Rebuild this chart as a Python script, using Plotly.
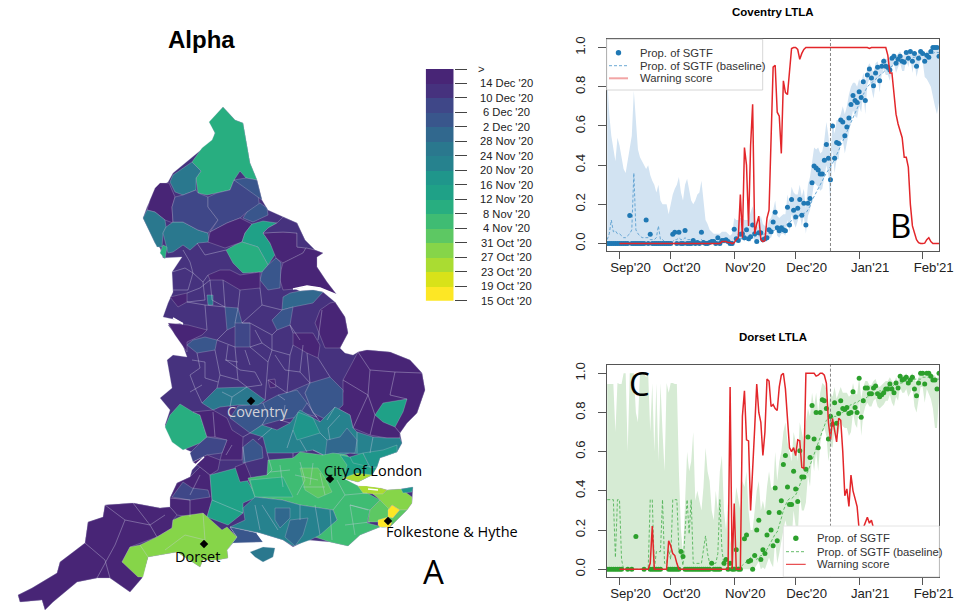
import pandas as pd
import plotly.graph_objects as go

N = None
days = pd.date_range("2020-08-31", periods=163)
tick_dates = ["2020-09-06", "2020-10-01", "2020-11-01", "2020-12-01", "2021-01-01", "2021-02-01"]
tick_text = ["Sep'20", "Oct'20", "Nov'20", "Dec'20", "Jan'21", "Feb'21"]
marker_date = "2020-12-18"

cov_sgtf = [0,0,0,0,0,0,0,0,0,0,
 0,.143,0,0,0,0,0,0,0,.12,
 0,.048,0,0,0,0,0,0,0,0,
 0,0,.048,.058,0,.058,0,0,.066,0,
 0,0,.015,0,.005,0,.058,.005,0,0,
 .005,.01,.01,0,.03,0,.015,.015,.02,.01,
 0,0,.073,.025,.015,.048,.05,.03,.07,.025,
 .035,.095,.05,.01,.055,.055,.02,.025,.03,.07,
 .06,.11,.16,.08,.065,.08,.07,.065,.185,.095,
 .225,.17,.135,.18,.225,.145,.205,.095,.205,.23,
 .31,.395,.385,.375,.355,.355,.425,.505,.435,.325,
 .60,.435,.515,.51,.63,.62,.55,.595,.64,.71,
 .755,.73,.72,.775,.745,.825,.73,.86,.89,.845,
 .805,.87,.90,.83,.905,.93,.905,.90,.885,.945,
 .955,.92,.94,.955,.93,.925,.975,.945,.98,.93,
 .97,.905,.945,.98,.97,.93,.96,.95,.98,1.0,
 1.0,1.0,.955]
cov_base = [.02,.05,.12,.06,.065,.05,.05,.04,.03,.03,
 .04,.05,.07,.36,.07,.05,.04,.03,.03,.03,
 .03,.02,.02,.02,.03,.09,.02,.02,.01,.01,
 .01,.01,.01,.02,.02,.03,.02,.02,.03,.02,
 .02,.02,.02,.01,.01,.01,.02,.01,.01,.01,
 .01,.01,.01,.01,.01,.01,.01,.01,.01,.01,
 .01,.01,.015,.02,.02,.025,.025,.03,.03,.03,
 .03,.035,.035,.04,.04,.04,.045,.05,.05,.055,
 .06,.065,.07,.07,.075,.08,.09,.09,.10,.11,
 .12,.125,.13,.14,.145,.15,.155,.155,.17,.19,
 .22,.24,.265,.285,.30,.32,.34,.36,.375,.39,
 .41,.43,.45,.475,.50,.52,.545,.57,.595,.62,
 .64,.665,.69,.715,.74,.76,.78,.80,.81,.82,
 .83,.84,.85,.86,.87,.88,.885,.89,.90,.905,
 .91,.92,.925,.93,.93,.935,.94,.945,.945,.95,
 .95,.955,.955,.96,.96,.965,.965,.97,.97,.97,
 .975,.975,.975]
cov_upper = [.85,.66,.55,.48,.42,.54,.5,.44,.38,.36,
 .42,.5,.55,.78,.6,.48,.44,.42,.4,.38,
 .4,.35,.32,.3,.26,.3,.22,.2,.2,.2,
 .15,.2,.25,.28,.3,.34,.26,.22,.3,.33,
 .28,.22,.2,.22,.25,.26,.32,.2,.12,.1,
 .07,.06,.05,.05,.05,.05,.06,.06,.06,.05,
 .04,.05,.13,.12,.12,.13,.13,.12,.12,.12,
 .16,.19,.14,.08,.1,.14,.1,.09,.08,.12,
 .13,.17,.22,.14,.13,.14,.15,.15,.25,.2,
 .29,.26,.25,.25,.3,.24,.28,.18,.3,.34,
 .42,.49,.48,.49,.46,.47,.53,.62,.55,.44,
 .62,.56,.63,.63,.66,.7,.66,.7,.76,.8,
 .82,.82,.8,.84,.81,.87,.83,.9,.92,.9,
 .87,.92,.93,.89,.93,.95,.94,.94,.94,.97,
 .97,.95,.97,.98,.96,.96,.98,.97,.99,.97,
 .98,.96,.97,.99,.99,.97,.98,.98,.99,1,
 1,1,1]
cov_lower = [0,0,0,0,0,0,0,0,0,0,
 0,0,0,0,0,0,0,0,0,0,
 0,0,0,0,0,0,0,0,0,0,
 0,0,0,0,0,0,0,0,0,0,
 0,0,0,0,0,0,0,0,0,0,
 0,0,0,0,0,0,0,0,0,0,
 0,0,.02,.01,.005,.02,.02,.01,.03,.01,
 .01,.03,.02,.005,.02,.02,.01,.01,.01,.03,
 .03,.06,.09,.04,.03,.05,.05,.04,.12,.06,
 .15,.11,.08,.12,.15,.09,.14,.05,.14,.17,
 .24,.31,.3,.29,.27,.28,.33,.4,.35,.2,
 .48,.36,.43,.43,.53,.53,.46,.5,.56,.62,
 .68,.65,.64,.7,.67,.77,.66,.81,.84,.79,
 .74,.81,.85,.77,.86,.89,.86,.86,.83,.9,
 .92,.87,.9,.92,.88,.88,.94,.9,.95,.87,
 .93,.85,.9,.94,.93,.85,.84,.82,.8,.75,
 .7,.66,.72]
cov_warn = [N,N,N,N,N,N,0,0,0,0,
 0,0,0,0,0,0,0,0,0,0,
 0,0,0,0,0,0,0,0,0,0,
 0,0,0,0,0,0,0,0,0,0,
 0,0,0,0,0,0,0,0,0,0,
 0,0,0,0,0,0,.01,.01,.01,.005,
 .005,0,.005,.02,.03,.25,.03,.49,.4,.09,
 .5,.71,.05,.1,.14,.02,.01,.015,.13,.17,
 .55,.90,.91,.67,.65,.46,.83,.77,.76,.9,
 .995,1,1,.99,.94,.97,.99,1,1,1,
 1,1,1,1,1,1,1,1,1,1,
 1,1,1,1,1,1,1,1,1,1,
 1,1,1,1,1,1,1,1,.995,1,
 1,1,1,1,1,1,1,.96,.87,.87,
 .78,.66,.61,.58,.54,.44,.44,.39,.2,.09,
 .06,.02,.005,0,0,.002,.02,.03,.01,0,
 0,0,0]

dor_sgtf = [0,0,0,0,0,0,0,0,N,N,
 0,N,0,N,.167,N,N,N,0,N,
 N,0,0,0,0,0,0,N,N,N,
 0,0,0,0,0,0,.09,.065,0,0,
 0,0,0,0,0,0,0,0,0,0,
 0,.03,0,0,0,0,N,.03,.05,0,
 .03,0,0,.1,0,0,N,.155,.175,.04,
 .045,0,.07,.2,.25,.05,.1,.08,.175,.29,
 .2,.12,.415,.145,.29,.35,.535,.58,.42,.33,
 .33,.50,.41,.345,.605,.47,.47,.51,.675,.57,
 .835,.665,.80,.62,.80,.865,.86,.82,.665,.78,
 .74,.85,.745,.795,.86,.82,.815,.825,.795,.80,
 .905,.825,.80,.975,.775,.86,.925,.925,.895,.895,
 .925,.935,.895,.88,.89,.90,.92,.92,.945,.92,
 .90,.95,.925,.985,.965,.97,.98,.95,.965,.98,
 .92,.885,.95,1,1,.945,1,1,.985,.965,
 .965,.92,1.0]
dor_base = [.355,.355,.355,.355,.06,.355,.355,.05,0,0,
 0,0,0,0,0,0,0,0,0,0,
 0,.355,.355,0,.09,.09,.09,.355,.03,.03,
 .1,.05,.355,.355,.355,.1,.08,.02,.2,.355,
 .18,.355,.03,.03,.03,.03,.03,.1,.17,.08,
 .03,.03,.03,.03,.08,.355,.1,.02,.02,.02,
 .02,.01,.01,.01,.01,.01,.02,.03,.04,.05,
 .06,.07,.06,.05,.06,.07,.07,.08,.1,.12,
 .14,.16,.18,.19,.22,.26,.3,.33,.35,.36,
 .36,.37,.38,.4,.43,.46,.47,.48,.5,.53,
 .56,.59,.62,.65,.68,.71,.74,.76,.77,.77,
 .77,.78,.78,.79,.8,.8,.81,.82,.83,.84,
 .84,.85,.85,.86,.86,.87,.87,.88,.88,.89,
 .89,.9,.9,.91,.91,.92,.92,.93,.93,.93,
 .94,.94,.95,.95,.95,.96,.96,.96,.96,.97,
 .97,.97,.97,.97,.98,.98,.98,.98,.98,.97,
 .97,.97,.97]
dor_upper = [.945,.945,.945,.945,.7,.95,.945,.945,1,1,
 .6,1,1,1,.8,.75,1,1,1,.98,
 1,.7,.95,.6,.95,.55,.95,.7,.5,.95,
 .9,.95,.95,.945,.945,.5,.2,.08,.35,.6,
 .5,.55,.7,.35,.4,.35,.3,.42,.62,.5,
 .45,.3,.25,.4,.3,.5,.58,.3,.2,.35,
 .15,.1,.3,.42,.35,.3,.45,.42,.5,.3,
 .2,.2,.3,.4,.45,.3,.35,.3,.42,.5,
 .42,.4,.6,.45,.55,.6,.7,.75,.65,.6,
 .55,.7,.65,.55,.75,.7,.65,.75,.82,.78,
 .9,.83,.9,.8,.9,.95,.94,.92,.82,.9,
 .88,.93,.87,.9,.93,.9,.9,.9,.88,.89,
 .95,.9,.89,.98,.87,.93,.96,.96,.94,.94,
 .96,.97,.94,.93,.94,.95,.96,.96,.98,.96,
 .95,.98,.96,1,.99,.99,1,.98,.99,1,
 .97,.95,.98,1,1,.98,1,1,1,.99,
 .99,.97,1]
dor_lower = [0,0,0,0,0,0,0,0,0,0,
 0,0,0,0,0,0,0,0,0,0,
 0,0,0,0,0,0,0,0,0,0,
 0,0,0,0,0,0,0,0,0,0,
 0,0,0,0,0,0,0,0,0,0,
 0,0,0,0,0,0,0,0,0,0,
 0,0,0,0,0,0,0,0,0,0,
 0,0,.005,.02,.04,0,.01,0,.03,.06,
 .03,.01,.15,.03,.08,.13,.2,.25,.2,.15,
 .15,.3,.22,.17,.38,.3,.3,.34,.48,.42,
 .58,.5,.6,.5,.64,.7,.72,.68,.55,.63,
 .62,.72,.65,.7,.75,.73,.72,.72,.68,.7,
 .8,.74,.72,.87,.68,.79,.83,.85,.83,.83,
 .86,.87,.83,.82,.83,.84,.86,.86,.89,.85,
 .83,.88,.86,.93,.9,.9,.92,.88,.9,.93,
 .83,.8,.87,.93,.93,.85,.92,.9,.87,.82,
 .72,.72,.88]
dor_warn = [N,N,N,N,N,N,0,0,0,0,
 0,0,0,0,0,0,0,0,0,0,
 0,.03,.22,0,0,0,0,0,0,0,
 .145,.12,.08,.07,.03,0,0,0,0,0,
 0,0,0,0,0,0,0,0,0,0,
 0,0,0,0,0,0,0,0,0,0,
 .93,0,.335,0,0,0,.78,.91,.66,.655,
 .30,.55,.72,.945,.80,.75,.58,.70,.97,.96,
 .83,.84,.82,.81,.93,.99,1,.92,.75,.62,
 .60,.62,.58,.66,.655,.52,.515,1,1,1,
 1,1,.985,.99,1,1,.99,.95,.75,.66,
 .77,.71,.65,.77,.76,.60,.375,.41,.32,.48,
 .40,.36,.32,.20,.20,.21,.24,.265,.235,.25,
 .21,.19,.15,.12,.10,.08,.06,.05,.03,.02,
 0,0,0,0,0,0,0,0,0,0,
 0,0,0,0,0,0,0,0,0,0,
 0,0,0]

# Date bins of the map key, latest at the top
key_labels = [">", "14 Dec '20", "10 Dec '20", "6 Dec '20", "2 Dec '20", "28 Nov '20", "24 Nov '20",
              "20 Nov '20", "16 Nov '20", "12 Nov '20", "8 Nov '20", "4 Nov '20", "31 Oct '20",
              "27 Oct '20", "23 Oct '20", "19 Oct '20", "15 Oct '20"]
key_colors = ["#482576", "#46327E", "#3F4788", "#39568C", "#31688E", "#2A788E", "#26828E", "#1F968B",
              "#1FA187", "#28AE80", "#3FBC73", "#5DC863", "#86D549", "#AADC32", "#D8E219", "#FDE725"]

england_coast = [(223,107),(235,120),(243,123),(246,140),(248,150),(250,163),(257,180),(262,200),(268,210),(283,217),
 (297,223),(305,240),(315,250),(323,253),(317,257),(317,267),(327,282),(337,295),(320,288),(307,286),(295,289),
 (300,291),(313,290),(323,292),(335,302),(345,317),(348,333),(340,348),(345,353),(353,355),(358,352),(367,350),
 (390,352),(410,360),(422,373),(425,390),(417,413),(407,423),(400,433),(402,443),(397,452),(380,458),(377,467),
 (372,475),(358,482),(343,478),(345,480),(358,486),(380,488),(387,490),(401,489),(413,487),(412,497),(412,503),(407,510),(390,527),
 (380,527),(360,535),(348,546),(330,542),(307,540),(293,547),(283,540),(260,533),(230,527),(237,537),(227,550),
 (228,558),(217,560),(203,560),(200,567),(177,552),(148,557),(142,578),(130,592),(110,578),(97,578),(77,582),
 (53,602),(45,610),(42,600),(20,602),(18,595),(32,588),(57,573),(60,562),(72,553),(85,543),(88,522),(103,517),
 (105,505),(133,503),(160,508),(170,507),(170,498),(177,483),(190,477),(192,470),(204,457),(187,450),(172,440),
 (165,425),(170,410),(160,398),(172,388),(167,360),(173,355),(187,357),(182,343),(168,325),(183,323),(177,320),
 (163,317),(168,303),(173,292),(172,272),(182,257),(163,258),(160,248),(155,243),(143,218),(147,207),(155,190),
 (168,182),(173,173),(192,157),(213,140),(215,133),(210,122)]

map_regions = [
 (1, england_coast),
 (9, [(223,107),(235,120),(243,123),(246,140),(248,150),(250,163),(257,180),(246,178),(240,171),(234,180),(230,190),(217,193),(207,195),(198,193),(196,178),(201,171),(192,162),(202,148),(212,140),(215,133),(209,122)]),
 (5, [(192,162),(201,171),(196,178),(196,190),(183,195),(175,192),(170,182),(173,175)]),
 (0, [(160,183),(169,183),(175,197),(172,207),(173,223),(165,220),(155,212),(147,210),(150,200),(155,188)]),
 (5, [(147,210),(143,218),(155,243),(157,247),(162,247),(163,233),(166,227),(165,220),(155,212)]),
 (5, [(166,227),(173,222),(183,222),(198,230),(208,233),(209,242),(198,243),(190,250),(183,245),(173,252),(168,253),(163,233)]),
 (9, [(163,245),(167,247),(165,259),(160,253)]),
 (2, [(175,197),(183,195),(196,190),(198,193),(208,197),(208,207),(218,220),(208,233),(198,230),(183,222),(173,222),(172,207)]),
 (2, [(208,197),(217,193),(230,190),(234,180),(257,187),(259,200),(260,210),(247,212),(240,218),(227,223),(210,232),(218,220),(208,207)]),
 (3, [(234,180),(246,178),(257,180),(262,200),(255,195),(248,190),(240,185)]),
 (3, [(260,203),(267,208),(268,215),(253,222),(243,218),(247,212)]),
 (0, [(210,232),(227,223),(240,218),(252,224),(245,233),(242,242),(225,248),(208,242)]),
 (8, [(252,224),(263,221),(277,223),(268,228),(263,233),(270,243),(276,253),(268,265),(258,247),(242,242),(245,233)]),
 (9, [(242,242),(258,247),(268,265),(262,272),(243,273),(233,263),(226,250),(235,245)]),
 (0, [(263,233),(283,232),(297,233),(297,247),(306,248),(303,253),(283,263),(276,258),(270,243)]),
 (1, [(277,223),(283,217),(297,223),(305,240),(315,250),(306,248),(297,247),(297,233),(283,232),(263,233),(268,228)]),
 (0, [(283,263),(303,253),(306,248),(315,250),(323,253),(317,257),(317,267),(327,282),(337,295),(320,288),(307,286),(295,289),(283,290),(280,280),(281,270)]),
 (3, [(268,265),(276,258),(281,263),(280,280),(280,288),(268,290),(260,280),(262,272)]),
 (0, [(208,275),(220,270),(230,270),(240,275),(260,272),(260,288),(240,290),(223,280),(210,280)]),
 (0, [(168,323),(188,325),(207,330),(202,335),(187,342),(187,352),(175,335)]),
 (0, [(170,297),(187,293),(187,302),(178,307)]),
 (4, [(290,293),(300,291),(313,290),(323,292),(313,303),(293,307),(282,310),(283,297)]),
 (5, [(207,295),(213,295),(213,305),(208,305)]),
 (0, [(320,310),(330,303),(335,302),(345,317),(348,333),(340,348),(325,348),(322,340),(315,323)]),
 (0, [(293,333),(313,333),(320,345),(318,358),(307,353),(293,345)]),
 (0, [(350,367),(358,352),(367,350),(390,352),(410,360),(422,373),(425,390),(417,413),(407,423),(400,433),(400,438),(387,438),(370,435),(353,428),(350,415),(335,407),(343,392),(343,380)]),
 (8, [(375,415),(383,403),(407,399),(403,412),(395,427),(383,422)]),
 (2, [(287,393),(310,383),(305,393),(313,413),(317,417),(303,413),(285,400)]),
 (3, [(310,383),(330,377),(343,390),(343,405),(327,420),(313,413),(305,393)]),
 (3, [(193,340),(205,337),(217,340),(215,350),(197,353),(187,345)]),
 (3, [(225,307),(238,308),(242,323),(227,330)]),
 (2, [(235,323),(250,323),(250,347),(235,347)]),
 (3, [(282,310),(293,307),(290,325),(277,330),(272,320)]),
 (0, [(268,380),(275,379),(276,387),(270,388)]),
 (3, [(230,418),(238,406),(263,403),(278,395),(297,390),(307,403),(298,417),(280,420),(262,425),(250,433)]),
 (5, [(202,403),(217,388),(247,387),(265,400),(258,405),(238,405),(220,407),(213,410)]),
 (9, [(180,404),(193,412),(200,415),(207,437),(200,443),(183,450),(172,442),(165,427),(170,415)]),
 (0, [(193,412),(213,410),(227,418),(232,430),(243,437),(242,460),(220,460),(222,453),(227,440),(215,437),(207,437),(200,415)]),
 (2, [(207,437),(227,440),(222,453),(207,455),(193,462),(190,453),(200,443)]),
 (6, [(250,433),(262,425),(277,430),(290,423),(300,410),(320,422),(335,407),(350,415),(353,428),(357,432),(373,437),(387,438),(400,438),(402,443),(397,452),(383,457),(350,453),(330,458),(313,450),(293,453),(267,453),(263,437)]),
 (3, [(243,447),(253,439),(262,447),(263,458),(243,463)]),
 (4, [(327,440),(340,437),(347,428),(357,440),(355,453),(340,453),(325,457)]),
 (7, [(298,412),(313,418),(320,433),(297,440),(293,430)]),
 (0, [(190,477),(200,467),(210,475),(212,500),(207,517),(190,517),(177,515),(170,507),(170,498),(177,483)]),
 (0, [(200,467),(193,462),(207,455),(220,460),(218,470),(210,475)]),
 (2, [(172,497),(183,482),(192,488),(208,490),(210,497),(190,500)]),
 (8, [(210,475),(240,467),(248,482),(257,497),(243,503),(243,513),(228,525),(215,520),(207,517),(212,500)]),
 (0, [(235,467),(245,463),(252,480),(240,482)]),
 (10, [(248,478),(267,475),(268,460),(293,458),(300,452),(323,455),(333,453),(347,455),(353,462),(343,478),(358,486),(367,493),(380,500),(370,510),(367,523),(387,528),(380,527),(360,535),(348,546),(330,542),(315,537),(337,520),(333,510),(300,505),(282,500),(255,497)]),
 (11, [(300,468),(318,468),(325,478),(332,492),(318,498),(305,490)]),
 (9, [(250,480),(283,477),(293,497),(255,497)]),
 (6, [(243,508),(255,497),(282,500),(300,505),(333,510),(337,520),(320,535),(310,540),(293,546),(283,540),(260,533),(230,527),(245,520)]),
 (4, [(285,537),(290,520),(308,518),(303,535),(295,546)]),
 (4, [(275,508),(290,508),(290,518),(280,528),(275,520)]),
 (3, [(230,527),(257,533),(263,542),(243,543),(233,543),(227,550),(237,537)]),
 (5, [(250,552),(263,547),(275,548),(273,557),(263,562),(255,557)]),
 (8, [(340,455),(350,457),(370,467),(377,467),(372,475),(358,482),(343,478),(347,465)]),
 (8, [(350,457),(363,453),(370,467),(353,463)]),
 (7, [(363,453),(383,450),(397,445),(397,452),(380,458),(377,467),(370,467)]),
 (13, [(343,478),(357,473),(372,475),(358,482)]),
 (13, [(358,486),(367,486),(380,488),(387,490),(383,494),(373,494),(363,493)]),
 (12, [(387,490),(401,489),(412,497),(412,503),(407,510),(400,510),(392,505),(388,510),(380,500),(373,494),(383,494)]),
 (7, [(401,489),(413,487),(412,492),(403,493)]),
 (11, [(380,500),(388,508),(390,512),(388,520),(378,522),(368,522),(370,510)]),
 (15, [(392,505),(400,510),(393,518),(388,520),(388,510)]),
 (15, [(378,520),(388,517),(392,523),(390,527),(380,527),(378,525)]),
 (11, [(400,510),(407,510),(390,527),(392,523),(388,517),(393,518)]),
 (0, [(170,507),(160,508),(133,503),(105,505),(103,517),(88,522),(85,543),(72,553),(60,562),(57,573),(32,588),(18,595),(20,602),(42,600),(45,610),(53,602),(77,582),(97,578),(110,578),(130,592),(142,578),(148,557),(122,562),(130,547),(157,537),(172,528),(173,520),(177,515)]),
 (12, [(173,520),(182,516),(203,513),(222,530),(227,527),(237,537),(227,550),(228,558),(217,560),(203,560),(200,567),(177,552),(148,557),(143,577),(138,577),(122,562),(130,547),(140,545),(157,537),(172,528)]),
]

map_boundaries = [
 [(172,272),(185,268),(193,273),(203,282)], [(183,250),(190,262),(193,273)], [(203,282),(208,275)], [(193,273),(188,290),(172,290)],
 [(197,243),(205,255),(226,250)], [(203,282),(205,300),(187,302)], [(187,293),(200,288),(210,280)], [(210,280),(212,300),(225,307)],
 [(187,302),(205,305),(225,307)], [(223,280),(225,307)], [(240,290),(238,308)], [(260,288),(262,305),(242,323)], [(262,305),(282,310)],
 [(205,305),(207,330)], [(217,340),(227,330)], [(215,350),(220,375),(217,388)], [(197,353),(200,368),(190,375),(195,388),(202,403)],
 [(220,375),(238,380),(247,387)], [(235,347),(238,380)], [(250,347),(268,362),(265,400)], [(250,323),(272,335),(272,350),(290,355),(287,393)],
 [(272,350),(268,362)], [(290,325),(293,333)], [(293,345),(290,355)], [(307,353),(310,383)], [(318,358),(330,377)], [(277,330),(272,335)],
 [(250,347),(262,343),(272,350)], [(268,380),(287,393)], [(238,308),(235,323)], [(242,323),(250,323)], [(217,340),(235,347)], [(225,360),(238,362)],
 [(263,403),(268,415),(262,425)], [(280,420),(290,423)], [(307,403),(320,422)], [(327,420),(335,407)], [(285,400),(278,395)],
 [(243,437),(250,433)], [(267,453),(272,470),(267,475)], [(293,453),(293,458)], [(313,450),(323,455)], [(293,430),(287,448)], [(320,433),(327,440)],
 [(357,432),(357,453)], [(373,437),(370,453)], [(300,462),(305,480),(297,495)], [(313,463),(310,485)], [(320,473),(325,495)], [(280,465),(283,487)],
 [(337,480),(345,495),(333,510)], [(350,505),(370,510)], [(345,495),(367,493)], [(350,505),(355,535)], [(315,505),(320,535)],
 [(358,352),(370,370),(368,395),(353,428)], [(343,380),(368,395)], [(370,370),(395,372),(422,373)], [(395,372),(390,395),(407,399)], [(368,395),(375,415)],
 [(395,427),(400,433)], [(375,415),(370,435)], [(105,505),(125,520),(115,545),(97,578)], [(125,520),(150,525),(157,537)], [(133,503),(150,525)],
 [(85,543),(105,560),(110,578)], [(150,525),(165,515)], [(190,517),(190,500)], [(170,498),(190,500)], [(212,500),(243,513)], [(245,463),(243,447)],
 [(165,550),(185,535),(205,540)], [(203,513),(205,540)], [(140,545),(148,557)],
 [(192,360),(205,362),(205,378),(218,382)], [(228,345),(226,360),(240,370),(255,372)], [(255,372),(262,385),(247,387)], [(275,355),(285,370),(300,372),(310,383)],
 [(300,372),(303,345)], [(255,330),(262,343)], [(245,350),(250,365)], [(222,392),(232,397),(230,407)], [(232,397),(247,387)],
 [(285,405),(283,418)], [(300,440),(307,452)], [(340,415),(328,428),(330,440)], [(300,340),(290,325)], [(318,340),(322,310)],
 [(190,392),(202,385)], [(213,412),(215,437)], [(200,475),(190,495)], [(232,445),(226,455)], [(258,440),(272,428)],
 [(270,472),(290,470)], [(295,475),(318,480)], [(303,487),(325,487)], [(255,505),(260,530)], [(262,505),(278,530)], [(330,510),(332,540)],
 [(368,510),(350,505)], [(345,525),(370,522)], [(300,505),(300,520)],
]
white_inlets = [
 [(191,469),(204,457)], [(173,318),(183,324)], [(357,484),(380,487)], [(257,533),(263,541),(270,540)],
 [(293,289),(307,286),(320,288),(337,295)], [(368,489),(378,490)],
]

marker_names = ["Coventry", "Dorset", "City of London", "Folkestone & Hythe"]
marker_x = [251, 204, 330, 388]
marker_y = [401, 544, 479, 521]

fig = go.Figure()

# ---- Map, drawn on an axis pair covering the page
for bin_i, outline in map_regions:
    xs = [p[0] for p in outline] + [outline[0][0]]
    ys = [p[1] for p in outline] + [outline[0][1]]
    fig.add_trace(go.Scatter(x=xs, y=ys, mode="lines", fill="toself", fillcolor=key_colors[bin_i],
                             line=dict(color="rgba(205,205,220,0.45)", width=0.6),
                             hoverinfo="skip", showlegend=False))
for line in map_boundaries:
    fig.add_trace(go.Scatter(x=[p[0] for p in line], y=[p[1] for p in line], mode="lines",
                             line=dict(color="rgba(205,205,225,0.55)", width=0.7),
                             hoverinfo="skip", showlegend=False))
for line in white_inlets:
    fig.add_trace(go.Scatter(x=[p[0] for p in line], y=[p[1] for p in line], mode="lines",
                             line=dict(color="white", width=1.5), hoverinfo="skip", showlegend=False))
fig.add_trace(go.Scatter(x=marker_x, y=marker_y, text=marker_names, mode="markers",
                         marker=dict(symbol="diamond", size=6.5, color="black"), showlegend=False))

# ---- Colour key
fig.add_trace(go.Heatmap(z=[[i] for i in range(16)], x=[0], y=[i + 0.5 for i in range(16)],
                         xaxis="x4", yaxis="y4", zmin=-0.5, zmax=15.5, showscale=False, hoverinfo="skip",
                         colorscale=[[j / 16 if k == 0 else (j + 1) / 16, c] for j, c in enumerate(key_colors) for k in (0, 1)]))


def panel(xa, ya, sgtf, base, upper, lower, warn, dot, band, dash):
    fig.add_trace(go.Scatter(x=list(days) + list(days)[::-1], y=upper + lower[::-1], xaxis=xa, yaxis=ya,
                             mode="lines", fill="toself", fillcolor=band, line=dict(width=0),
                             hoverinfo="skip", showlegend=False))
    fig.add_trace(go.Scatter(x=days, y=base, xaxis=xa, yaxis=ya, mode="lines", name="Prop. of SGTF (baseline)",
                             line=dict(color=dash, width=0.9, dash="3px,2px"), showlegend=False))
    fig.add_trace(go.Scatter(x=days, y=sgtf, xaxis=xa, yaxis=ya, mode="markers", name="Prop. of SGTF",
                             marker=dict(color=dot, size=5), showlegend=False))
    fig.add_trace(go.Scatter(x=days, y=warn, xaxis=xa, yaxis=ya, mode="lines", name="Warning score",
                             line=dict(color="#E3262A", width=1.5), connectgaps=False, showlegend=False))


panel("x2", "y2", cov_sgtf, cov_base, cov_upper, cov_lower, cov_warn, "#1F78B4", "#D2E3F2", "#5B9FD0")
panel("x3", "y3", dor_sgtf, dor_base, dor_upper, dor_lower, dor_warn, "#2CA02C", "#D6EBD4", "#55B45A")

W, H = 966, 611
def xdom(a, b): return [a / W, b / W]
def ydom(top, bottom): return [1 - bottom / H, 1 - top / H]

xa_common = dict(type="date", range=["2020-08-30 18:00", "2021-02-09 03:00"], tickvals=tick_dates, ticktext=tick_text,
                 ticks="outside", ticklen=7, tickcolor="#555", tickwidth=1, showgrid=False, zeroline=False, automargin=False,
                 showline=True, mirror=True, linecolor="#555", linewidth=1, ticklabelshift=11, ticklabelstandoff=-3,
                 tickfont=dict(family="Liberation Sans", size=13.2, color="#222"))
ya_common = dict(range=[-0.038, 1.042], tickvals=[0, .2, .4, .6, .8, 1], ticktext=["0.0", "0.2", "0.4", "0.6", "0.8", "1.0"],
                 ticks="outside", ticklen=8, tickcolor="#555", tickwidth=1, tickangle=-90, showgrid=False, zeroline=False,
                 automargin=False, showline=True, mirror=True, linecolor="#555", linewidth=1, ticklabelstandoff=7,
                 tickfont=dict(family="Liberation Sans", size=13.2, color="#222"))

fig.update_layout(
    template="none", width=W, height=H, autosize=False, margin=dict(l=0, r=0, t=0, b=0, pad=0),
    paper_bgcolor="white", plot_bgcolor="rgba(0,0,0,0)", showlegend=False, hovermode="closest",
    xaxis=dict(domain=[0, 1], range=[0, W], visible=False, fixedrange=True, automargin=False),
    yaxis=dict(domain=[0, 1], range=[H, 0], visible=False, fixedrange=True, automargin=False),
    xaxis2=dict(domain=xdom(606.7, 939.3), anchor="y2", **xa_common),
    yaxis2=dict(domain=ydom(39.3, 251), anchor="x2", **ya_common),
    xaxis3=dict(domain=xdom(606.7, 939.3), anchor="y3", **xa_common),
    yaxis3=dict(domain=ydom(365, 576.7), anchor="x3", **ya_common),
    xaxis4=dict(domain=xdom(425.7, 453.7), anchor="y4", visible=False, fixedrange=True, automargin=False),
    yaxis4=dict(domain=ydom(69, 300.7), anchor="x4", range=[16, 0], side="right", tickvals=list(range(17)),
                showticklabels=False, ticks="outside", ticklen=12.5, tickcolor="#444", tickwidth=1, automargin=False,
                showgrid=False, zeroline=False, showline=False, fixedrange=True),
)

ann = []
def text(x, y, s, size, family="Liberation Sans", color="black", bold=False, anchor="center"):
    ann.append(dict(x=x, y=y, xref="x", yref="y", text=f"<b>{s}</b>" if bold else s, showarrow=False,
                    xanchor=anchor, yanchor="middle", font=dict(family=family, size=size, color=color)))

text(201, 39, "Alpha", 24, bold=True)
text(773, 12, "Coventry LTLA", 11.5, bold=True)
text(773, 337, "Dorset LTLA", 11.5, bold=True)
LAB = "Open Sans"
text(257, 411, "Coventry", 14.5, LAB, "#D2D2D8")
text(373, 470, "City of London", 14.5, LAB)
text(452, 531, "Folkestone & Hythe", 14.5, LAB)
text(197, 556, "Dorset", 14.5, LAB)
text(433, 571, "A", 33, LAB)
text(900, 225, "B", 33, LAB)
text(639, 383, "C", 33, LAB)
key_y0, key_step = 69, (300.7 - 69) / 16
for i, lab in enumerate(key_labels):
    text(481 if lab == ">" else 506.5, key_y0 + i * key_step, lab, 11.2, color="#222")

shapes = []
for xa, ya in (("x2", "y2"), ("x3", "y3")):
    shapes.append(dict(type="line", xref=xa, yref=ya, x0=marker_date, x1=marker_date, y0=-0.038, y1=1.042,
                       line=dict(color="#777", width=0.9, dash="3px,2px")))

def legend(box, rows, x0, x1, tx, marker, dash, red, red_w, border):
    shapes.append(dict(type="rect", xref="x", yref="y", x0=box[0], x1=box[1], y0=box[2], y1=box[3],
                       fillcolor="white", line=dict(color=border, width=0.8)))
    xm = (x0 + x1) / 2
    shapes.append(dict(type="circle", xref="x", yref="y", x0=xm - 2.7, x1=xm + 2.7, y0=rows[0] - 2.7, y1=rows[0] + 2.7,
                       fillcolor=marker, line=dict(width=0)))
    shapes.append(dict(type="line", xref="x", yref="y", x0=x0, x1=x1, y0=rows[1], y1=rows[1],
                       line=dict(color=dash, width=0.9, dash="3px,2px")))
    shapes.append(dict(type="line", xref="x", yref="y", x0=x0, x1=x1, y0=rows[2], y1=rows[2],
                       line=dict(color=red, width=red_w)))
    for y, s in zip(rows, ["Prop. of SGTF", "Prop. of SGTF (baseline)", "Warning score"]):
        text(tx, y, s, 11.3, color="#333", anchor="left")

legend((606.7, 762.7, 39.3, 90), (52.7, 65.7, 78.3), 609, 628, 637.5, "#1F78B4", "#5B9FD0", "#F2A5A5", 2, "#CCCCCC")
legend((783.3, 939.3, 526, 576.7), (538.3, 551.7, 564.3), 786, 805.7, 815, "#2CA02C", "#55B45A", "#E3262A", 1, "#DDDDDD")

fig.update_layout(shapes=shapes, annotations=ann)
fig.write_html("out.html", config={"displayModeBar": False, "responsive": False},
               post_script="document.body.style.margin='0';document.documentElement.style.overflow='hidden';")
